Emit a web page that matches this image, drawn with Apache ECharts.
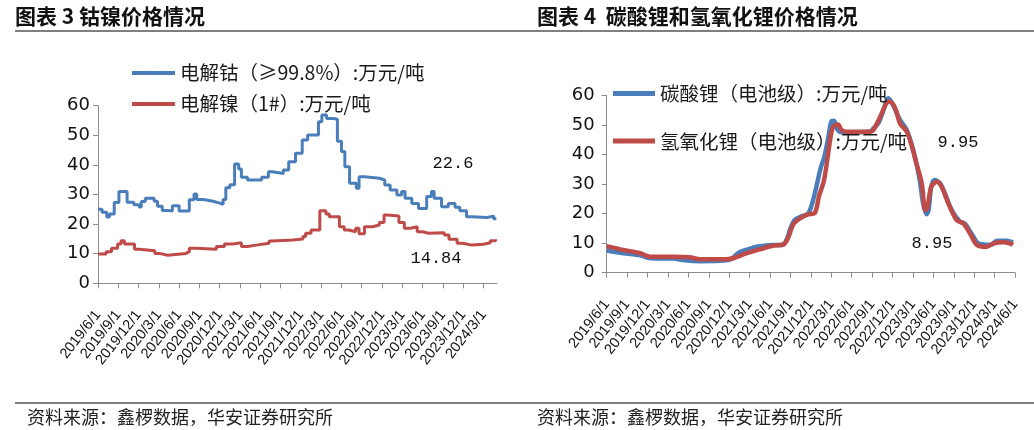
<!DOCTYPE html>
<html><head><meta charset="utf-8">
<script src="https://cdn.jsdelivr.net/npm/echarts@6/dist/echarts.min.js"></script>
<style>html,body{margin:0;padding:0;background:#fff}#c{width:1034px;height:430px}</style>
</head><body><div id="c"></div>
<script>
// ---- data (x = months after 2019/6/1, y = 万元/吨) ----
const leftTickLabels = ['2019/6/1','2019/9/1','2019/12/1','2020/3/1','2020/6/1','2020/9/1','2020/12/1','2021/3/1','2021/6/1','2021/9/1','2021/12/1','2022/3/1','2022/6/1','2022/9/1','2022/12/1','2023/3/1','2023/6/1','2023/9/1','2023/12/1','2024/3/1'];
const rightTickLabels = ['2019/6/1','2019/9/1','2019/12/1','2020/3/1','2020/6/1','2020/9/1','2020/12/1','2021/3/1','2021/6/1','2021/9/1','2021/12/1','2022/3/1','2022/6/1','2022/9/1','2022/12/1','2023/3/1','2023/6/1','2023/9/1','2023/12/1','2024/3/1','2024/6/1'];

const cobalt = [[0,25.0],[0.6,24.0],[1.3,22.4],[1.7,23.4],[2.4,27.3],[3.1,31.0],[4.3,27.4],[5.3,26.5],[6.1,25.8],[6.4,27.6],[7.0,28.7],[8.3,27.7],[8.8,26.0],[9.5,24.6],[10.3,24.4],[11.0,26.2],[12.0,24.4],[13.5,28.2],[14.2,30.2],[14.6,28.3],[15.6,27.7],[17.0,27.1],[18.0,26.7],[18.5,28.3],[18.9,32.3],[19.5,33.3],[20.2,40.3],[20.8,38.6],[21.2,35.8],[22.1,34.9],[24.2,35.8],[25.2,37.7],[25.8,37.1],[27.4,38.3],[28.2,41.1],[29.2,43.9],[30.2,48.4],[31.0,50.1],[32.6,54.6],[33.1,56.9],[33.8,55.7],[34.8,55.4],[35.4,48.0],[36.0,44.5],[36.5,39.4],[37.2,33.8],[38.2,32.1],[38.6,36.0],[39.4,35.5],[41.6,34.9],[42.4,33.2],[43.2,31.5],[44.2,29.8],[44.9,31.0],[45.4,28.7],[46.4,27.0],[47.4,25.3],[48.6,29.3],[49.3,31.0],[49.7,28.7],[50.8,25.9],[51.8,27.0],[52.8,25.7],[53.5,24.5],[54.5,22.5],[55.3,22.2],[57.5,22.7],[58.5,21.8],[58.9,21.8]];
const nickel = [[0,9.9],[1.2,10.7],[2.0,11.8],[2.9,13.3],[3.4,14.4],[3.9,13.3],[5.4,11.5],[6.1,11.0],[8.4,10.1],[9.1,9.5],[10.3,10.1],[13.0,10.7],[13.5,11.8],[14.5,11.5],[17.5,12.4],[18.7,13.3],[19.9,13.7],[21.2,12.4],[22.1,12.9],[23.4,13.5],[25.3,14.3],[25.8,14.6],[28.8,15.0],[30.3,15.8],[30.7,16.9],[31.5,18.0],[32.8,24.5],[33.7,23.4],[34.2,22.5],[35.7,19.1],[36.4,18.0],[37.1,17.4],[38.1,18.6],[38.6,16.7],[39.4,19.1],[40.6,19.7],[41.6,20.5],[42.3,23.1],[42.8,22.7],[44.5,20.5],[45.3,18.6],[46.2,19.1],[47.2,17.4],[48.0,16.9],[48.9,17.1],[51.2,16.3],[51.9,14.9],[53.1,13.5],[53.9,12.9],[55.3,13.2],[57.0,13.7],[58.0,14.4],[58.8,14.84]];

const carbonate = [[0,7.5],[2.45,6.6],[4.9,5.9],[6.4,4.9],[9.8,4.8],[11.5,4.2],[13.7,3.9],[17.6,4.2],[18.4,4.8],[19.4,6.8],[20.6,7.8],[21.6,8.6],[22.6,9.0],[24.5,9.4],[25.8,9.4],[26.4,11.0],[27.0,15.0],[27.6,17.8],[28.7,19.2],[29.6,20.0],[30.2,23.5],[30.8,29.0],[31.5,36.0],[31.9,38.5],[32.5,45.0],[33.0,51.2],[33.4,51.5],[33.9,48.5],[34.5,47.6],[38.7,47.8],[39.2,48.9],[39.9,50.6],[40.6,54.6],[41.4,59.1],[42.1,56.8],[43.1,51.8],[44.1,48.4],[44.6,45.0],[45.3,39.3],[46.0,31.4],[46.5,23.5],[47.0,19.8],[47.3,21.2],[47.7,29.2],[48.2,31.4],[49.0,30.3],[49.7,26.9],[50.7,21.2],[51.9,17.3],[52.6,16.7],[53.6,13.3],[54.6,9.9],[55.8,9.5],[56.6,9.6],[57.3,10.8],[58.8,10.8],[59.7,10.3]];
const hydroxide = [[0,9.0],[2.45,7.7],[4.9,6.6],[6.4,5.4],[9.8,5.4],[12.2,5.2],[13.7,4.6],[17.6,4.6],[18.6,4.9],[20.6,6.6],[22.5,7.9],[24.5,9.2],[26.0,9.6],[26.7,12.0],[27.4,16.3],[28.4,18.4],[29.6,19.8],[30.6,20.3],[31.2,26.0],[31.9,31.0],[32.4,38.0],[32.9,46.0],[33.3,49.5],[34.0,50.2],[34.5,48.4],[35.3,47.8],[38.7,47.8],[39.2,48.4],[40.2,52.9],[41.1,57.4],[41.6,58.0],[42.4,55.7],[43.1,50.6],[44.1,47.8],[44.8,43.3],[45.5,37.1],[46.3,30.3],[46.8,21.2],[47.1,21.8],[47.7,29.2],[48.5,30.8],[49.2,29.2],[50.2,23.5],[51.4,17.9],[52.4,16.7],[53.4,13.3],[54.4,9.4],[55.8,8.8],[56.8,9.9],[58.3,10.3],[59.3,9.9],[59.7,9.4]];

const seriesNames = ['电解钴（≥99.8%）:万元/吨','电解镍（1#）:万元/吨','碳酸锂（电池级）:万元/吨','氢氧化锂（电池级）:万元/吨'];
const annotations = ['22.6','14.84','9.95','8.95'];
const titles = ['图表 3 钴镍价格情况','图表 4  碳酸锂和氢氧化锂价格情况'];
const sourceText = '资料来源：鑫椤数据，华安证券研究所';

// ---- styles ----
const BLUE = '#4a7ebb', RED = '#be4b48', AXIS = '#8c8c8c';
const CJK = '"Noto Sans CJK SC", sans-serif';
const NUM = '"DejaVu Sans", sans-serif';

function xAxisFor(labels, gridIndex, max) {
  const vals = labels.map((_, i) => i * 3);
  return {
    type: 'value', gridIndex, min: 0, max, interval: 3,
    axisLine: { show: true, lineStyle: { color: AXIS, width: 1 } },
    axisTick: { show: true, length: 5, lineStyle: { color: AXIS }, customValues: vals },
    splitLine: { show: false },
    axisLabel: {
      customValues: vals, rotate: 52, margin: 29, color: '#111', fontSize: 14.5, fontFamily: '"Liberation Sans", Arial, sans-serif',
      formatter: v => labels[Math.round(v / 3)] || ''
    }
  };
}
function yAxisFor(gridIndex, margin) {
  return {
    type: 'value', gridIndex, min: 0, max: 60, interval: 10,
    axisLine: { show: true, lineStyle: { color: AXIS, width: 1 } },
    axisTick: { show: true, length: 5, lineStyle: { color: AXIS } },
    splitLine: { show: false },
    axisLabel: { color: '#111', fontSize: 18, fontFamily: NUM, margin }
  };
}

const chart = echarts.init(document.getElementById('c'), null, { renderer: 'canvas' });
chart.setOption({
  animation: false,
  backgroundColor: '#fff',
  grid: [
    { left: 98, top: 105.7, right: 537, bottom: 146.7 },
    { left: 606.7, top: 95.7, right: 19, bottom: 157.3 }
  ],
  xAxis: [xAxisFor(leftTickLabels, 0, 59), xAxisFor(rightTickLabels, 1, 60)],
  yAxis: [yAxisFor(0, 8), yAxisFor(1, 12)],
  legend: [
    {
      data: [seriesNames[0], seriesNames[1]], orient: 'vertical', left: 127, top: 58,
      icon: 'rect', itemWidth: 43, itemHeight: 4, itemGap: 11,
      textStyle: { fontFamily: CJK, fontSize: 19.5, color: '#1a1a1a', lineHeight: 20 }
    },
    {
      data: [seriesNames[2], seriesNames[3]], orient: 'vertical', left: 608, top: 78.5,
      icon: 'rect', itemWidth: 42, itemHeight: 5, itemGap: 27.6,
      textStyle: { fontFamily: CJK, fontSize: 19.5, color: '#1a1a1a', lineHeight: 20 }
    }
  ],
  series: [
    { name: seriesNames[0], type: 'line', xAxisIndex: 0, yAxisIndex: 0, data: cobalt, step: 'end', symbol: 'none', lineStyle: { color: BLUE, width: 3 }, itemStyle: { color: BLUE } },
    { name: seriesNames[1], type: 'line', xAxisIndex: 0, yAxisIndex: 0, data: nickel, step: 'end', symbol: 'none', lineStyle: { color: RED, width: 3 }, itemStyle: { color: RED } },
    { name: seriesNames[2], type: 'line', xAxisIndex: 1, yAxisIndex: 1, data: carbonate, smooth: 0.3, symbol: 'none', lineStyle: { color: BLUE, width: 4.5 }, itemStyle: { color: BLUE } },
    { name: seriesNames[3], type: 'line', xAxisIndex: 1, yAxisIndex: 1, data: hydroxide, smooth: 0.3, symbol: 'none', lineStyle: { color: RED, width: 4.5 }, itemStyle: { color: RED } }
  ],
  graphic: [
    { type: 'text', left: 15, top: 6, style: { text: titles[0], font: 'bold 21px ' + CJK, fill: '#111' } },
    { type: 'text', left: 537, top: 6, style: { text: titles[1], font: 'bold 21px ' + CJK, fill: '#111' } },
    { type: 'line', shape: { x1: 15, y1: 31, x2: 1034, y2: 31 }, style: { stroke: '#555', lineWidth: 1.5 } },
    { type: 'line', shape: { x1: 15, y1: 403, x2: 1034, y2: 403 }, style: { stroke: '#555', lineWidth: 1.5 } },
    { type: 'text', left: 27, top: 408, style: { text: sourceText, font: '18px ' + CJK, fill: '#222' } },
    { type: 'text', left: 537, top: 408, style: { text: sourceText, font: '18px ' + CJK, fill: '#222' } },
    { type: 'text', x: 453, y: 163, style: { text: annotations[0], font: '17px "Liberation Mono", monospace', fill: '#111', align: 'center', verticalAlign: 'middle' } },
    { type: 'text', x: 436, y: 258, style: { text: annotations[1], font: '17px "Liberation Mono", monospace', fill: '#111', align: 'center', verticalAlign: 'middle' } },
    { type: 'text', x: 958, y: 142, style: { text: annotations[2], font: '17px "Liberation Mono", monospace', fill: '#111', align: 'center', verticalAlign: 'middle' } },
    { type: 'text', x: 932, y: 243, style: { text: annotations[3], font: '17px "Liberation Mono", monospace', fill: '#111', align: 'center', verticalAlign: 'middle' } }
  ]
});
</script></body></html>
